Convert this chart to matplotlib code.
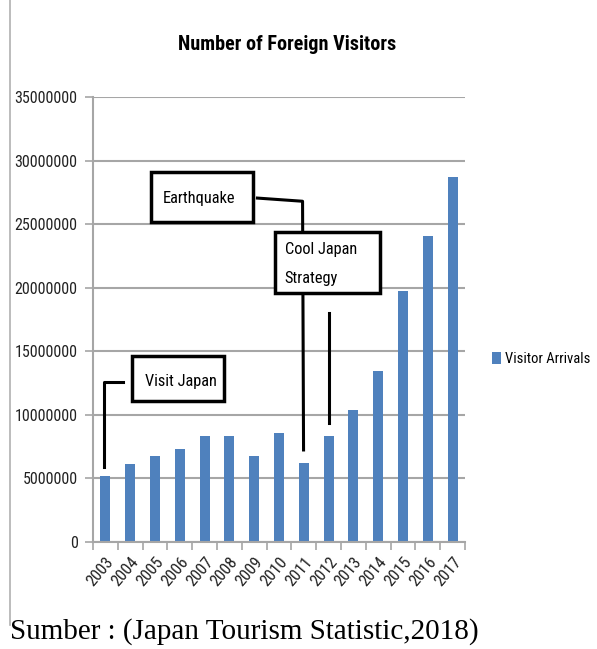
import matplotlib
matplotlib.use("Agg")
import matplotlib.pyplot as plt
from matplotlib.patches import Rectangle
from matplotlib.lines import Line2D

plt.rcParams['font.family'] = ['Roboto Condensed', 'Liberation Sans Narrow', 'Roboto', 'DejaVu Sans']

years = ['2003', '2004', '2005', '2006', '2007', '2008', '2009', '2010',
         '2011', '2012', '2013', '2014', '2015', '2016', '2017']
visitors = [5211725, 6137905, 6727926, 7334077, 8346969, 8350835, 6789658,
            8611175, 6218752, 8358105, 10363904, 13413467, 19737409,
            24039700, 28691073]
yticks = [0, 5000000, 10000000, 15000000, 20000000, 25000000, 30000000, 35000000]

title = 'Number of Foreign Visitors'
series_name = 'Visitor Arrivals'
source = 'Sumber : (Japan Tourism Statistic,2018)'

BLUE = '#4f81bd'
GRID = '#a6a6a6'

fig = plt.figure(figsize=(5.97, 6.49), dpi=100)
ax = fig.add_axes([93 / 597, 1 - 542 / 649, 372 / 597, 445 / 649])

x = list(range(len(years)))
ax.bar(x, visitors, width=0.4, color=BLUE, zorder=2, label=series_name)

ax.set_xlim(-0.5, len(years) - 0.5)
ax.set_ylim(0, 35000000)
ax.set_yticks(yticks)
ax.set_yticklabels([str(v) for v in yticks], fontsize=11.5, color='#222222')
ax.yaxis.grid(True, color=GRID, linewidth=1.5, zorder=0)
ax.set_axisbelow(True)

# category ticks at boundaries (Excel style), labels at centres
ax.set_xticks([i - 0.5 for i in range(len(years) + 1)])
ax.set_xticklabels([])
ax.set_xticks(x, minor=True)
ax.set_xticklabels(years, minor=True, rotation=50, ha='right', va='top',
                   rotation_mode='anchor', fontsize=12, color='#222222')
ax.tick_params(axis='x', which='minor', length=0, pad=9)
ax.tick_params(axis='x', which='major', length=6, color=GRID, width=1.2)
ax.tick_params(axis='y', length=6, color=GRID, width=1.2, pad=5)

for s in ['top', 'right']:
    ax.spines[s].set_visible(False)
for s in ['left', 'bottom']:
    ax.spines[s].set_color(GRID)
    ax.spines[s].set_linewidth(1.5)

# annotations
def box(x0, x1, y0, y1):
    ax.add_patch(Rectangle((x0, y0), x1 - x0, y1 - y0, facecolor='white',
                           edgecolor='black', linewidth=2.5, zorder=5,
                           clip_on=False))

def path(xs, ys):
    ax.add_line(Line2D(xs, ys, color='black', linewidth=2.2, zorder=4,
                       clip_on=False))

ANN_FS = 11.8

# Earthquake -> 2011
path([6.13, 7.95, 7.99], [27.05e6, 26.8e6, 7.24e6])
box(1.855, 5.95, 25.19e6, 29.12e6)
ax.text(2.3, 27.05e6, 'Earthquake', fontsize=ANN_FS, va='center', ha='left',
        zorder=6)

# Cool Japan Strategy
box(6.83, 11.06, 19.56e6, 24.4e6)
ax.text(7.23, 22.97e6, 'Cool Japan', fontsize=ANN_FS, va='center', ha='left',
        zorder=6)
ax.text(7.23, 20.74e6, 'Strategy', fontsize=ANN_FS, va='center', ha='left',
        zorder=6)
path([9.0, 9.0], [18.0e6, 9.36e6])

# Visit Japan -> 2003
path([0.71, -0.07, -0.07], [12.6e6, 12.6e6, 5.92e6])
box(1.09, 4.77, 11.11e6, 14.65e6)
ax.text(1.59, 12.6e6, 'Visit Japan', fontsize=ANN_FS, va='center', ha='left',
        zorder=6)

# title
fig.text(287 / 597, 1 - 45 / 649, title, fontsize=14.5, fontweight='bold',
         ha='center', va='center')

# legend
leg = fig.legend(loc='center left', bbox_to_anchor=(492 / 597, 1 - 359 / 649),
                 frameon=False, fontsize=10.5, handlelength=0.6,
                 handleheight=0.9, handletextpad=0.3, borderaxespad=0,
                 borderpad=0)

# left border line
fig.add_artist(Line2D([10 / 597, 10 / 597], [1.0, 1 - 625 / 649],
                      transform=fig.transFigure, color='#b0b0b0',
                      linewidth=1.2))

# source
fig.text(10 / 597, 1 - 632 / 649, source, fontsize=21,
         family=['Liberation Serif', 'DejaVu Serif'], ha='left',
         va='center')

fig.savefig('out.png', dpi=100)
